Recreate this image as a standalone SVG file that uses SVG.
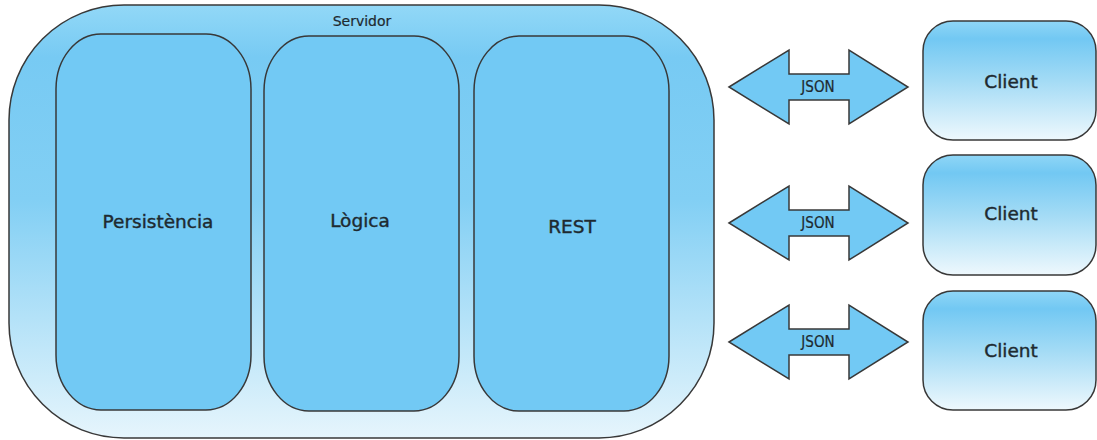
<svg xmlns="http://www.w3.org/2000/svg" width="1097" height="440" viewBox="0 0 1097 440">
  <defs>
    <linearGradient id="gOuter" x1="0" y1="0" x2="0" y2="1">
      <stop offset="0" stop-color="#92d8f7"/>
      <stop offset="0.12" stop-color="#77caf3"/>
      <stop offset="0.45" stop-color="#82cff4"/>
      <stop offset="1" stop-color="#e6f5fc"/>
    </linearGradient>
    <linearGradient id="gClient" x1="0" y1="0" x2="0" y2="1">
      <stop offset="0" stop-color="#8fd6f6"/>
      <stop offset="0.15" stop-color="#72c8f3"/>
      <stop offset="0.5" stop-color="#a3dbf5"/>
      <stop offset="1" stop-color="#eef8fd"/>
    </linearGradient>
  </defs>
  <style>
    .box { stroke: #383838; stroke-width: 1.5; }
    .inner { fill: #72c9f4; }
    .arrow { fill: #72c9f4; stroke: #383838; stroke-width: 1.5; stroke-linejoin: miter; }
    .lbl { font-family: "DejaVu Sans", "Liberation Sans", sans-serif; fill: #1e2a30; stroke: #1e2a30; stroke-width: 0.4; text-anchor: middle; }
    .big { font-size: 18.5px; }
    .small { font-size: 14px; stroke-width: 0.2; }
    .json { font-family: "DejaVu Sans Condensed", "DejaVu Sans", sans-serif; font-size: 15px; fill: #1e2a30; stroke: #1e2a30; stroke-width: 0.2; text-anchor: middle; }
  </style>

  <g id="servidor">
    <rect class="box" x="9" y="5" width="705" height="433" rx="115" ry="115" fill="url(#gOuter)"/>
    <text class="lbl small" x="362" y="26">Servidor</text>
  </g>

  <g id="persistencia">
    <rect class="box inner" x="56" y="34" width="195" height="376" rx="45" ry="55"/>
    <text class="lbl big" x="158" y="228">Persistència</text>
  </g>

  <g id="logica">
    <rect class="box inner" x="264" y="36" width="195" height="375" rx="45" ry="55"/>
    <text class="lbl big" x="360" y="227">Lògica</text>
  </g>

  <g id="rest">
    <rect class="box inner" x="474" y="36" width="195" height="375" rx="45" ry="55"/>
    <text class="lbl big" x="572" y="233">REST</text>
  </g>

  <g id="client1">
    <rect class="box" x="923" y="21" width="173" height="119" rx="30" ry="30" fill="url(#gClient)"/>
    <text class="lbl big" x="1011" y="88">Client</text>
  </g>
  <g id="client2">
    <rect class="box" x="923" y="155" width="173" height="120" rx="30" ry="30" fill="url(#gClient)"/>
    <text class="lbl big" x="1011" y="220">Client</text>
  </g>
  <g id="client3">
    <rect class="box" x="923" y="291" width="173" height="119" rx="30" ry="30" fill="url(#gClient)"/>
    <text class="lbl big" x="1011" y="357">Client</text>
  </g>

  <g id="connectors">
    <g id="json1">
      <polygon class="arrow" points="729,87 789,50 789,74 849,74 849,50 908,87 849,124 849,100 789,100 789,124"/>
      <text class="json" x="818" y="92">JSON</text>
    </g>
    <g id="json2">
      <polygon class="arrow" points="729,223 789,186 789,210 849,210 849,186 908,223 849,260 849,236 789,236 789,260"/>
      <text class="json" x="818" y="228">JSON</text>
    </g>
    <g id="json3">
      <polygon class="arrow" points="729,342 789,305 789,329 849,329 849,305 908,342 849,379 849,355 789,355 789,379"/>
      <text class="json" x="818" y="347">JSON</text>
    </g>
  </g>
</svg>
